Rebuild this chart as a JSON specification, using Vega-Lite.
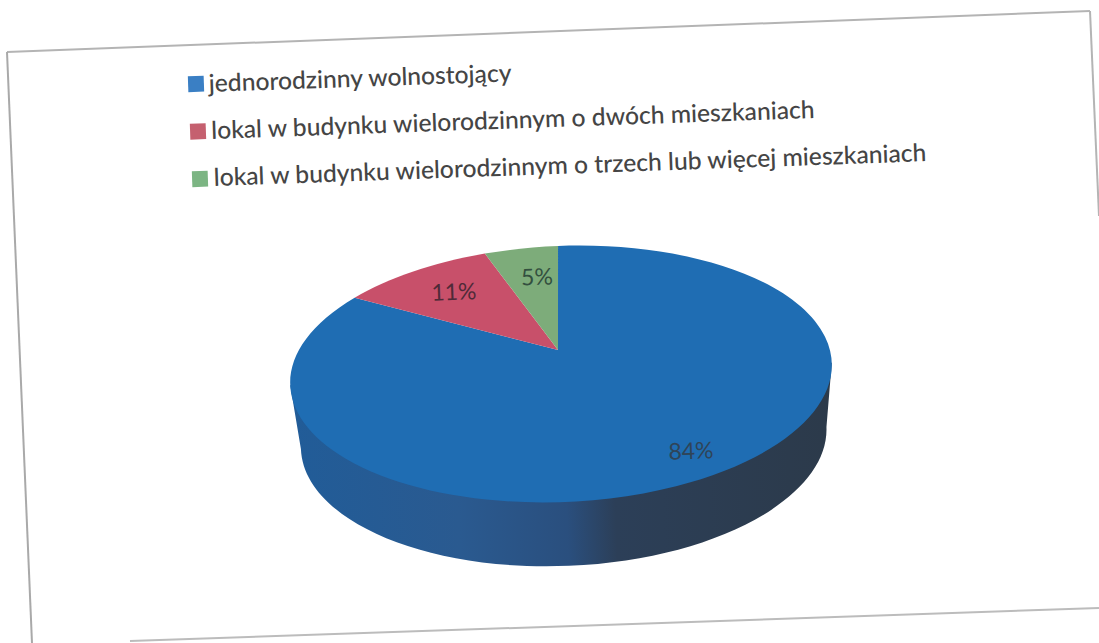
{
  "$schema": "https://vega.github.io/schema/vega-lite/v6.json",
  "width": 1099,
  "height": 643,
  "padding": 0,
  "autosize": "none",
  "background": "#ffffff",
  "config": {"view": {"stroke": null}, "axis": {"disable": true}, "legend": {"disable": true}},
  "datasets": {
    "slices": [
      {"kategoria": "jednorodzinny wolnostojący", "udzial": 0.84},
      {"kategoria": "lokal w budynku wielorodzinnym o dwóch mieszkaniach", "udzial": 0.11},
      {"kategoria": "lokal w budynku wielorodzinnym o trzech lub więcej mieszkaniach", "udzial": 0.05}
    ],
    "frame": [{"element": "ramka"}]
  },
  "resolve": {"scale": {"x": "independent", "y": "independent", "color": "independent", "shape": "independent"}},
  "layer": [
    {
      "data": {"name": "frame"},
      "mark": {"type": "rule", "color": "#b4b4b4", "strokeWidth": 2},
      "encoding": {
        "x": {"datum": 7, "type": "quantitative", "scale": {"domain": [0, 1099], "nice": false, "zero": false}},
        "y": {"datum": 52, "type": "quantitative", "scale": {"domain": [0, 643], "reverse": true, "nice": false, "zero": false}},
        "x2": {"datum": 1090},
        "y2": {"datum": 11}
      }
    },
    {
      "data": {"name": "frame"},
      "mark": {"type": "rule", "color": "#a9a9a9", "strokeWidth": 2},
      "encoding": {
        "x": {"datum": 7, "type": "quantitative", "scale": {"domain": [0, 1099], "nice": false, "zero": false}},
        "y": {"datum": 52, "type": "quantitative", "scale": {"domain": [0, 643], "reverse": true, "nice": false, "zero": false}},
        "x2": {"datum": 32},
        "y2": {"datum": 643}
      }
    },
    {
      "data": {"name": "frame"},
      "mark": {"type": "rule", "color": "#b4b4b4", "strokeWidth": 2},
      "encoding": {
        "x": {"datum": 1090, "type": "quantitative", "scale": {"domain": [0, 1099], "nice": false, "zero": false}},
        "y": {"datum": 11, "type": "quantitative", "scale": {"domain": [0, 643], "reverse": true, "nice": false, "zero": false}},
        "x2": {"datum": 1099},
        "y2": {"datum": 216}
      }
    },
    {
      "data": {"name": "frame"},
      "mark": {"type": "rule", "color": "#bcbcbc", "strokeWidth": 2},
      "encoding": {
        "x": {"datum": 130, "type": "quantitative", "scale": {"domain": [0, 1099], "nice": false, "zero": false}},
        "y": {"datum": 641, "type": "quantitative", "scale": {"domain": [0, 643], "reverse": true, "nice": false, "zero": false}},
        "x2": {"datum": 1099},
        "y2": {"datum": 608}
      }
    },
    {
      "data": {"name": "frame"},
      "mark": {
        "type": "point",
        "filled": true,
        "opacity": 1,
        "angle": -2.4,
        "size": 40000,
        "shape": "M-2.71 0 L-2.63 0.64 A2.63 1.28 0 0 0 2.63 0.64 L2.71 0 Z",
        "fill": {
          "x1": 0, "y1": 0, "x2": 1, "y2": 0,
          "gradient": "linear",
          "stops": [
            {"offset": 0, "color": "#215c98"},
            {"offset": 0.3, "color": "#2a5a90"},
            {"offset": 0.5, "color": "#2a4f7e"},
            {"offset": 0.59, "color": "#2c3f58"},
            {"offset": 1, "color": "#2c3a4a"}
          ]
        }
      },
      "encoding": {
        "x": {"datum": 561, "type": "quantitative", "scale": {"domain": [0, 1099], "nice": false, "zero": false}},
        "y": {"datum": 374, "type": "quantitative", "scale": {"domain": [0, 643], "reverse": true, "nice": false, "zero": false}}
      }
    },
    {
      "data": {"name": "slices"},
      "mark": {"type": "point", "filled": true, "opacity": 1, "angle": -2.4, "size": 40000},
      "encoding": {
        "x": {"datum": 561, "type": "quantitative", "scale": {"domain": [0, 1099], "nice": false, "zero": false}},
        "y": {"datum": 374, "type": "quantitative", "scale": {"domain": [0, 643], "reverse": true, "nice": false, "zero": false}},
        "shape": {
          "field": "kategoria",
          "type": "nominal",
          "scale": {
            "domain": ["jednorodzinny wolnostojący", "lokal w budynku wielorodzinnym o dwóch mieszkaniach", "lokal w budynku wielorodzinnym o trzech lub więcej mieszkaniach"],
            "range": [
              "M-0.02 -0.241 L0.024 -1.28 A2.71 1.28 0 1 1 -2.03 -0.848 Z",
              "M-0.02 -0.241 L-2.03 -0.848 A2.71 1.28 0 0 1 -0.71 -1.235 Z",
              "M-0.02 -0.241 L-0.71 -1.235 A2.71 1.28 0 0 1 0.024 -1.28 Z"
            ]
          }
        },
        "color": {
          "field": "kategoria",
          "type": "nominal",
          "scale": {
            "domain": ["jednorodzinny wolnostojący", "lokal w budynku wielorodzinnym o dwóch mieszkaniach", "lokal w budynku wielorodzinnym o trzech lub więcej mieszkaniach"],
            "range": ["#1f6db3", "#c8506a", "#7dac7a"]
          }
        }
      }
    },
    {
      "data": {"name": "slices"},
      "mark": {"type": "point", "filled": true, "opacity": 1, "shape": "square", "angle": -2, "size": 250},
      "encoding": {
        "x": {"field": "kategoria", "type": "nominal", "scale": {"type": "point", "padding": 0, "domain": ["jednorodzinny wolnostojący", "lokal w budynku wielorodzinnym o dwóch mieszkaniach", "lokal w budynku wielorodzinnym o trzech lub więcej mieszkaniach"], "range": [196, 200]}},
        "y": {"field": "kategoria", "type": "nominal", "scale": {"type": "point", "padding": 0, "domain": ["jednorodzinny wolnostojący", "lokal w budynku wielorodzinnym o dwóch mieszkaniach", "lokal w budynku wielorodzinnym o trzech lub więcej mieszkaniach"], "range": [84, 179]}},
        "color": {
          "field": "kategoria",
          "type": "nominal",
          "scale": {
            "domain": ["jednorodzinny wolnostojący", "lokal w budynku wielorodzinnym o dwóch mieszkaniach", "lokal w budynku wielorodzinnym o trzech lub więcej mieszkaniach"],
            "range": ["#3a7fc4", "#c5606f", "#7cb583"]
          }
        }
      }
    },
    {
      "data": {"name": "slices"},
      "mark": {"type": "text", "align": "left", "baseline": "alphabetic", "angle": -2, "font": "Lato", "fontSize": 24.65, "fontWeight": 500, "color": "#454545"},
      "encoding": {
        "x": {"field": "kategoria", "type": "nominal", "scale": {"type": "point", "padding": 0, "domain": ["jednorodzinny wolnostojący", "lokal w budynku wielorodzinnym o dwóch mieszkaniach", "lokal w budynku wielorodzinnym o trzech lub więcej mieszkaniach"], "range": [209, 214]}},
        "y": {"field": "kategoria", "type": "nominal", "scale": {"type": "point", "padding": 0, "domain": ["jednorodzinny wolnostojący", "lokal w budynku wielorodzinnym o dwóch mieszkaniach", "lokal w budynku wielorodzinnym o trzech lub więcej mieszkaniach"], "range": [92, 186]}},
        "text": {"field": "kategoria", "type": "nominal"}
      }
    },
    {
      "data": {"name": "slices"},
      "transform": [{"filter": "datum.udzial == 0.84"}],
      "mark": {"type": "text", "align": "center", "baseline": "middle", "angle": -2, "font": "Lato", "fontSize": 23, "color": "#2f4458"},
      "encoding": {
        "x": {"datum": 691, "type": "quantitative", "scale": {"domain": [0, 1099], "nice": false, "zero": false}},
        "y": {"datum": 452, "type": "quantitative", "scale": {"domain": [0, 643], "reverse": true, "nice": false, "zero": false}},
        "text": {"field": "udzial", "type": "quantitative", "format": ".0%"}
      }
    },
    {
      "data": {"name": "slices"},
      "transform": [{"filter": "datum.udzial == 0.11"}],
      "mark": {"type": "text", "align": "center", "baseline": "middle", "angle": -2, "font": "Lato", "fontSize": 23, "color": "#4f2a38"},
      "encoding": {
        "x": {"datum": 454, "type": "quantitative", "scale": {"domain": [0, 1099], "nice": false, "zero": false}},
        "y": {"datum": 293, "type": "quantitative", "scale": {"domain": [0, 643], "reverse": true, "nice": false, "zero": false}},
        "text": {"field": "udzial", "type": "quantitative", "format": ".0%"}
      }
    },
    {
      "data": {"name": "slices"},
      "transform": [{"filter": "datum.udzial == 0.05"}],
      "mark": {"type": "text", "align": "center", "baseline": "middle", "angle": -2, "font": "Lato", "fontSize": 23, "color": "#33503f"},
      "encoding": {
        "x": {"datum": 537, "type": "quantitative", "scale": {"domain": [0, 1099], "nice": false, "zero": false}},
        "y": {"datum": 278, "type": "quantitative", "scale": {"domain": [0, 643], "reverse": true, "nice": false, "zero": false}},
        "text": {"field": "udzial", "type": "quantitative", "format": ".0%"}
      }
    }
  ]
}
